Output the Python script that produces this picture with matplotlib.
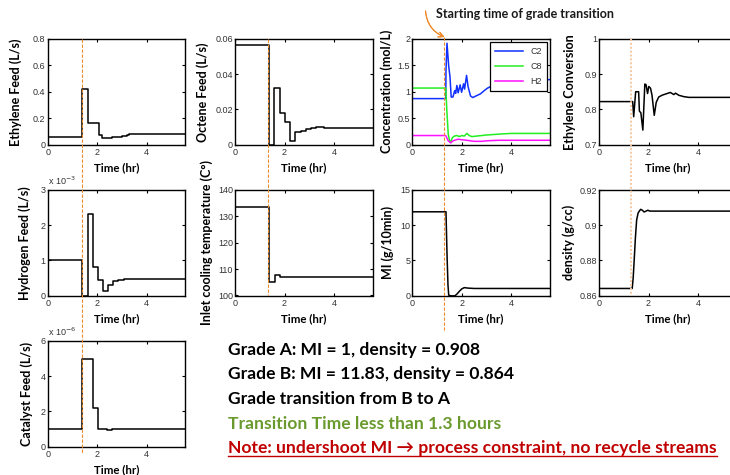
import numpy as np
import matplotlib
matplotlib.use('Agg')
from matplotlib import pyplot as plt
from matplotlib.lines import Line2D
from matplotlib.ticker import FuncFormatter
from matplotlib.transforms import blended_transform_factory

# ---- data ----
# step inputs (value holds until the next time)
t_ethylene = [0, 1.40, 1.62, 2.06, 2.21, 2.40, 2.60, 2.80, 3.00, 3.20, 3.30, 5.55]
ethylene_feed = [0.058, 0.42, 0.165, 0.072, 0.046, 0.050, 0.055, 0.060, 0.065, 0.070, 0.076, 0.076]

t_octene = [0, 1.365, 1.58, 1.82, 2.03, 2.22, 2.42, 2.65, 2.85, 3.05, 3.25, 3.60, 5.55]
octene_feed = [0.0565, 0, 0.032, 0.0178, 0.0126, 0.0021, 0.0073, 0.0078, 0.0088, 0.0095, 0.0100, 0.0096, 0.0096]

t_hydrogen = [0, 1.39, 1.61, 1.84, 2.04, 2.23, 2.43, 2.65, 2.84, 3.07, 3.47, 5.55]
hydrogen_feed = [1.0, 0, 2.33, 0.82, 0.43, 0.115, 0.30, 0.40, 0.44, 0.48, 0.46, 0.46]  # x 1e-3

t_temp = [0, 1.38, 1.60, 1.82, 5.55]
inlet_temp = [133.7, 105.0, 107.6, 107.1, 107.1]

t_catalyst = [0, 1.37, 1.81, 2.03, 2.40, 2.60, 5.55]
catalyst_feed = [1.0, 5.0, 2.2, 1.0, 0.95, 1.0, 1.0]  # x 1e-6

# outputs
t_c2 = [0, 1.35, 1.36, 1.40, 1.47, 1.52, 1.57, 1.64, 1.71, 1.75, 1.80, 1.85, 1.93, 1.99,
        2.07, 2.11, 2.19, 2.25, 2.35, 2.44, 2.57, 2.75, 2.90, 3.04, 3.30, 3.60, 4.00, 5.55]
c2 = [0.87, 0.87, 1.40, 1.92, 1.48, 1.29, 0.90, 0.90, 1.02, 0.97, 1.12, 0.98, 1.13, 0.99,
      1.15, 1.05, 1.31, 1.10, 0.92, 0.89, 0.92, 0.96, 1.02, 1.07, 1.13, 1.18, 1.22, 1.23]

t_c8 = [0, 1.35, 1.40, 1.45, 1.50, 1.55, 1.62, 1.70, 1.80, 1.90, 2.00, 2.10, 2.20,
        2.30, 2.40, 2.60, 2.80, 3.00, 3.30, 3.60, 4.00, 5.55]
c8 = [1.07, 1.07, 0.60, 0.20, 0.08, 0.05, 0.13, 0.16, 0.17, 0.15, 0.17, 0.16, 0.21,
      0.17, 0.15, 0.16, 0.17, 0.18, 0.19, 0.20, 0.21, 0.21]

t_h2 = [0, 1.35, 1.45, 1.55, 1.62, 1.70, 1.85, 2.00, 2.20, 2.50, 2.80, 3.00, 3.50, 5.55]
h2 = [0.17, 0.17, 0.07, 0.03, 0.06, 0.08, 0.10, 0.09, 0.08, 0.06, 0.06, 0.07, 0.08, 0.08]

t_conv = [0, 1.36, 1.40, 1.48, 1.60, 1.63, 1.69, 1.77, 1.85, 1.90, 1.96, 2.01, 2.08,
          2.14, 2.23, 2.31, 2.41, 2.54, 2.75, 2.88, 3.02, 3.09, 3.22, 3.43, 3.63, 5.55]
conversion = [0.822, 0.822, 0.779, 0.85, 0.85, 0.795, 0.79, 0.741, 0.872, 0.87, 0.845, 0.865, 0.86,
              0.84, 0.783, 0.82, 0.835, 0.84, 0.845, 0.848, 0.842, 0.846, 0.84, 0.836, 0.834, 0.834]

t_mi = [0, 1.36, 1.40, 1.44, 1.47, 1.55, 1.72, 1.80, 1.90, 2.00, 2.10, 2.25, 2.50, 5.55]
mi = [11.9, 11.9, 6.0, 1.5, 0.05, -0.05, -0.05, 0.2, 0.6, 0.95, 1.12, 1.05, 1.0, 1.0]

t_density = [0, 1.34, 1.38, 1.42, 1.47, 1.52, 1.58, 1.68, 1.75, 1.82, 1.90, 1.97, 2.05, 5.55]
density = [0.864, 0.864, 0.87, 0.88, 0.893, 0.903, 0.907, 0.909, 0.9085, 0.9075, 0.908, 0.9085, 0.908, 0.908]

# start of grade transition as marked in each column
t_start = [1.40, 1.34, 1.28, 1.28]

notes = ['Grade A: MI = 1, density = 0.908',
         'Grade B: MI = 11.83, density = 0.864',
         'Grade transition from B to A',
         'Transition Time less than 1.3 hours',
         'Note: undershoot MI \u2192 process constraint, no recycle streams']
note_colors = ['black', 'black', 'black', '#6a9a2e', '#c00000']

# ---- layout (pixels) ----
W, H = 730, 475
col_left = [47.7, 235, 412.3, 599]
row_top = [39, 190, 341]
AX_W, AX_H = 137.5, 105.5
T_MAX = 5.55

LABEL_FONT = ['Lato', 'DejaVu Sans']
TICK_FONT = 'Liberation Sans'

fig = plt.figure(figsize=(W / 100, H / 100), dpi=100)


def make_axes(col, row, ylim, yticks, ylabel, ylabel_x):
    ax = fig.add_axes([col_left[col] / W, 1 - (row_top[row] + AX_H) / H, AX_W / W, AX_H / H])
    ax.set_xlim(0, T_MAX)
    ax.set_ylim(*ylim)
    ax.set_xticks([0, 2, 4])
    ax.set_yticks(yticks)
    ax.yaxis.set_major_formatter(FuncFormatter(lambda v, p: '%g' % round(v, 6)))
    ax.tick_params(direction='in', length=2.2, width=0.8, top=True, right=True,
                   labelsize=6.5, labelcolor='#333333')
    ax.tick_params(axis='x', pad=2.5)
    ax.tick_params(axis='y', pad=1.5)
    for lab in ax.get_xticklabels() + ax.get_yticklabels():
        lab.set_family(TICK_FONT)
    for sp in ax.spines.values():
        sp.set_linewidth(1.0)
    ax.set_xlabel('Time (hr)', family=LABEL_FONT, fontweight='bold', fontsize=8.3)
    ax.xaxis.set_label_coords(0.5, -0.165)
    ax.set_ylabel(ylabel, family=LABEL_FONT, fontweight='bold', fontsize=9)
    # label coords give the right-hand edge of the rotated label
    ax.yaxis.set_label_coords(ylabel_x, 0.5)
    return ax


LW = 1.1

ax_eth = make_axes(0, 0, (0, 0.8), [0, 0.2, 0.4, 0.6, 0.8], 'Ethylene Feed (L/s)', -0.189)
ax_eth.step(t_ethylene, ethylene_feed, where='post', color='black', lw=LW)

ax_oct = make_axes(1, 0, (0, 0.06), [0, 0.02, 0.04, 0.06], 'Octene Feed (L/s)', -0.187)
ax_oct.step(t_octene, octene_feed, where='post', color='black', lw=LW)

ax_conc = make_axes(2, 0, (0, 2), [0, 0.5, 1, 1.5, 2], 'Concentration (mol/L)', -0.138)
ax_conc.plot(t_c2, c2, color='#1030ff', lw=LW, label='C2')
ax_conc.plot(t_c8, c8, color='#22ee22', lw=LW, label='C8')
ax_conc.plot(t_h2, h2, color='#ff10ff', lw=LW, label='H2')
leg = ax_conc.legend(loc='upper right', fancybox=False, edgecolor='black',
                     framealpha=1, handlelength=3.2, handletextpad=0.8, labelspacing=0.7,
                     borderpad=0.5, borderaxespad=0.35, prop={'family': TICK_FONT, 'size': 6.5})
leg.get_frame().set_linewidth(0.9)
for txt in leg.get_texts():
    txt.set_color('#333333')

ax_conv = make_axes(3, 0, (0.7, 1), [0.7, 0.8, 0.9, 1], 'Ethylene Conversion', -0.17)
ax_conv.plot(t_conv, conversion, color='black', lw=LW)

ax_h2 = make_axes(0, 1, (0, 3), [0, 1, 2, 3], 'Hydrogen Feed (L/s)', -0.119)
ax_h2.step(t_hydrogen, hydrogen_feed, where='post', color='black', lw=LW)
ax_h2.text(0, 1.03, 'x 10$^{-3}$', transform=ax_h2.transAxes, fontsize=6.5,
           family=TICK_FONT, color='#333333', va='bottom')

ax_temp = make_axes(1, 1, (100, 140), [100, 110, 120, 130, 140],
                    'Inlet cooling temperature (C\u00b0)', -0.158)
ax_temp.step(t_temp, inlet_temp, where='post', color='black', lw=LW)

ax_mi = make_axes(2, 1, (0, 15), [0, 5, 10, 15], 'MI (g/10min)', -0.134)
ax_mi.plot(t_mi, mi, color='black', lw=LW)

ax_den = make_axes(3, 1, (0.86, 0.92), [0.86, 0.88, 0.9, 0.92], 'density (g/cc)', -0.174)
ax_den.plot(t_density, density, color='black', lw=LW)

ax_cat = make_axes(0, 2, (0, 6), [0, 2, 4, 6], 'Catalyst Feed (L/s)', -0.105)
ax_cat.step(t_catalyst, catalyst_feed, where='post', color='black', lw=LW)
ax_cat.text(0, 1.03, 'x 10$^{-6}$', transform=ax_cat.transAxes, fontsize=6.5,
            family=TICK_FONT, color='#333333', va='bottom')

# vertical marker lines for the start of the transition, drawn across rows
top_axes = [ax_eth, ax_oct, ax_conc, ax_conv]
spans = [(39, 453), (39, 295), (37, 330), (39, 296)]
for i, ax in enumerate(top_axes):
    trans = blended_transform_factory(ax.transData, fig.transFigure)
    y0, y1 = spans[i]
    if i < 3:
        ln = Line2D([t_start[i], t_start[i]], [1 - y0 / H, 1 - y1 / H], transform=trans,
                    color='#ee8a2a', lw=0.8, ls=(0, (3, 1.5)))
    else:
        ln = Line2D([t_start[i], t_start[i]], [1 - y0 / H, 1 - y1 / H], transform=trans,
                    color='#f7c8a0', lw=1.4, ls=(0, (1, 1)))
    fig.add_artist(ln)

# callout for the transition start
fig.text(436 / W, 1 - 14 / H, 'Starting time of grade transition', family=LABEL_FONT,
         fontweight='bold', fontsize=9, va='center', color='#1a1a1a')
fig.add_artist(plt.annotate('', xy=(444.5 / W, 1 - 37 / H), xytext=(425.5 / W, 1 - 11 / H),
                            xycoords='figure fraction', textcoords='figure fraction',
                            arrowprops=dict(arrowstyle='->,head_length=0.35,head_width=0.18',
                                            color='#ee8a2a', lw=0.8,
                                            connectionstyle='arc3,rad=0.3',
                                            shrinkA=0, shrinkB=0)))

# text block at the bottom
note_y = [350, 374.5, 399.5, 424, 448]
note_texts = []
for txt, col, y in zip(notes, note_colors, note_y):
    t = fig.text(228 / W, 1 - y / H, txt, family=LABEL_FONT, fontweight='bold',
                 fontsize=12.6, color=col, va='center')
    note_texts.append(t)

# underline the red note
fig.canvas.draw()
bb = note_texts[-1].get_window_extent()
fig.add_artist(Line2D([bb.x0 / W, bb.x1 / W], [1 - 455.5 / H, 1 - 455.5 / H],
                      transform=fig.transFigure, color='#c00000', lw=1.0))

fig.savefig('out.png', dpi=100)
